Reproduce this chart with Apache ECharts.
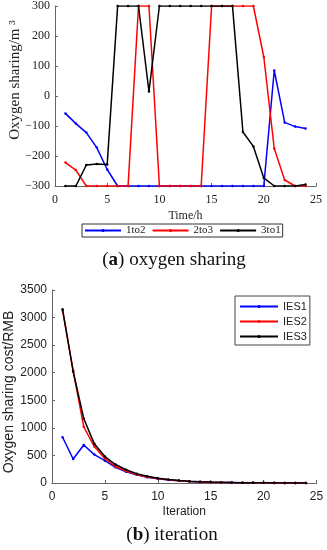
<!DOCTYPE html>
<html><head><meta charset="utf-8">
<script src="https://cdn.jsdelivr.net/npm/echarts@6/dist/echarts.min.js"></script>
<style>html,body{margin:0;padding:0;background:#fff}#c{width:327px;height:550px}</style>
</head><body><div id="c"></div>
<script>
// ---- Plot (a): oxygen sharing ----
var hours = [1,2,3,4,5,6,7,8,9,10,11,12,13,14,15,16,17,18,19,20,21,22,23,24];
var s1to2 = [-58,-92,-122,-172,-245,-300,-300,-300,-300,-300,-300,-300,-300,-300,-300,-300,-300,-300,-300,-300,85,-88,-102,-108];
var s2to3 = [-222,-247,-300,-300,-300,-300,-300,300,300,-300,-300,-300,-300,-300,300,300,300,300,300,130,-175,-280,-300,-300];
var s3to1 = [-300,-300,-230,-227,-228,300,300,300,15,300,300,300,300,300,300,300,300,-120,-168,-273,-300,-300,-300,-295];
var namesA = ['1to2','2to3','3to1'];
var ticksA_x = [0,5,10,15,20,25];
var ticksA_y = [-300,-200,-100,0,100,200,300];

// ---- Plot (b): iteration ----
var iters = [1,2,3,4,5,6,7,8,9,10,11,12,13,14,15,16,17,18,19,20,21,22,23,24];
var ies1 = [830,435,690,515,405,285,205,148,106,76,54,39,28,20,14,10,7,5,4,3,2,1.5,1,1];
var ies2 = [3130,2040,1020,660,440,300,215,155,110,80,57,40,29,21,15,11,8,6,4,3,2,1.5,1,1];
var ies3 = [3150,2020,1170,710,480,335,240,170,122,88,63,45,32,23,17,12,9,6,5,3.5,2.5,2,1.5,1];
var namesB = ['IES1','IES2','IES3'];
var ticksB_x = [0,5,10,15,20,25];
var ticksB_y = [0,500,1000,1500,2000,2500,3000,3500];

var colors = ['#0000ff','#ff0000','#000000'];
function pairs(xs, ys){ return xs.map(function(x,i){ return [x, ys[i]]; }); }

var serif = 'Liberation Serif';
var sans = 'Liberation Sans';
var axisCol = '#666';

function mkX(grid, ticks, font, name, gap){
  return {type:'value', gridIndex:grid, min:ticks[0], max:ticks[ticks.length-1], interval:ticks[1]-ticks[0],
    name:name, nameLocation:'middle', nameGap:gap,
    nameTextStyle:{fontFamily:font, fontSize:12, color:'#222'},
    axisLine:{show:true, onZero:false, lineStyle:{color:axisCol, width:1}},
    axisTick:{show:true, inside:true, length:3, lineStyle:{color:axisCol}},
    axisLabel:{fontFamily:font, fontSize:12, color:'#222', margin:8},
    splitLine:{show:false}};
}
function mkY(grid, ticks, font, fs, fmt){
  return {type:'value', gridIndex:grid, min:ticks[0], max:ticks[ticks.length-1], interval:ticks[1]-ticks[0],
    axisLine:{show:true, onZero:false, lineStyle:{color:axisCol, width:1}},
    axisTick:{show:true, inside:true, length:3, lineStyle:{color:axisCol}},
    axisLabel:{fontFamily:font, fontSize:fs, color:'#222', margin:5, formatter:fmt},
    splitLine:{show:false}};
}
function mkS(name, xs, ys, i, xi){
  return {type:'line', name:name, xAxisIndex:xi, yAxisIndex:xi, data:pairs(xs, ys),
    symbol:'circle', symbolSize:2.5, showSymbol:true,
    itemStyle:{color:colors[i]}, lineStyle:{color:colors[i], width:1.5}, animation:false, z:2+i};
}

var chart = echarts.init(document.getElementById('c'), null, {renderer:'canvas'});
chart.setOption({
  animation:false,
  grid:[
    {left:55, right:11, top:4, height:182},
    {left:52, right:10.5, top:290, height:193}
  ],
  xAxis:[ mkX(0, ticksA_x, serif, 'Time/h', 24), mkX(1, ticksB_x, sans, 'Iteration', 23) ],
  yAxis:[ mkY(0, ticksA_y, serif, 12, function(v){ return String(v).replace('-', '\u2212'); }),
          mkY(1, ticksB_y, sans, 12, function(v){ return String(v); }) ],
  legend:[
    {data:namesA, orient:'horizontal', left:82, top:224, itemWidth:36, itemHeight:4, itemGap:6,
     padding:[0,2,0,2], borderColor:'#333', borderWidth:1, backgroundColor:'#fff',
     textStyle:{fontFamily:serif, fontSize:11, color:'#222', lineHeight:13}},
    {data:namesB, orient:'vertical', left:235, top:296, itemWidth:38, itemHeight:4, itemGap:2,
     padding:[4,3,2,4], borderColor:'#444', borderWidth:1, backgroundColor:'#fff',
     textStyle:{fontFamily:sans, fontSize:11, color:'#222', lineHeight:13}}
  ],
  series:[
    mkS(namesA[0], hours, s1to2, 0, 0),
    mkS(namesA[1], hours, s2to3, 1, 0),
    mkS(namesA[2], hours, s3to1, 2, 0),
    mkS(namesB[0], iters, ies1, 0, 1),
    mkS(namesB[1], iters, ies2, 1, 1),
    mkS(namesB[2], iters, ies3, 2, 1)
  ],
  graphic:[
    {type:'text', x:15, y:80, rotation:Math.PI/2,
     style:{text:'Oxygen sharing/m \u00b3', fontFamily:serif, fontSize:15, fill:'#222', align:'center', verticalAlign:'middle'}},
    {type:'text', x:9, y:392, rotation:Math.PI/2,
     style:{text:'Oxygen sharing cost/RMB', fontFamily:sans, fontSize:14, fill:'#222', align:'center', verticalAlign:'middle'}},
    {type:'text', x:174, y:260,
     style:{text:'({b|a}) oxygen sharing', fontFamily:serif, fontSize:19, fill:'#111', align:'center', verticalAlign:'middle',
       rich:{b:{fontFamily:serif, fontSize:19, fontWeight:'bold', fill:'#111'}}}},
    {type:'text', x:172, y:535,
     style:{text:'({b|b}) iteration', fontFamily:serif, fontSize:19, fill:'#111', align:'center', verticalAlign:'middle',
       rich:{b:{fontFamily:serif, fontSize:19, fontWeight:'bold', fill:'#111'}}}}
  ]
});
</script></body></html>
